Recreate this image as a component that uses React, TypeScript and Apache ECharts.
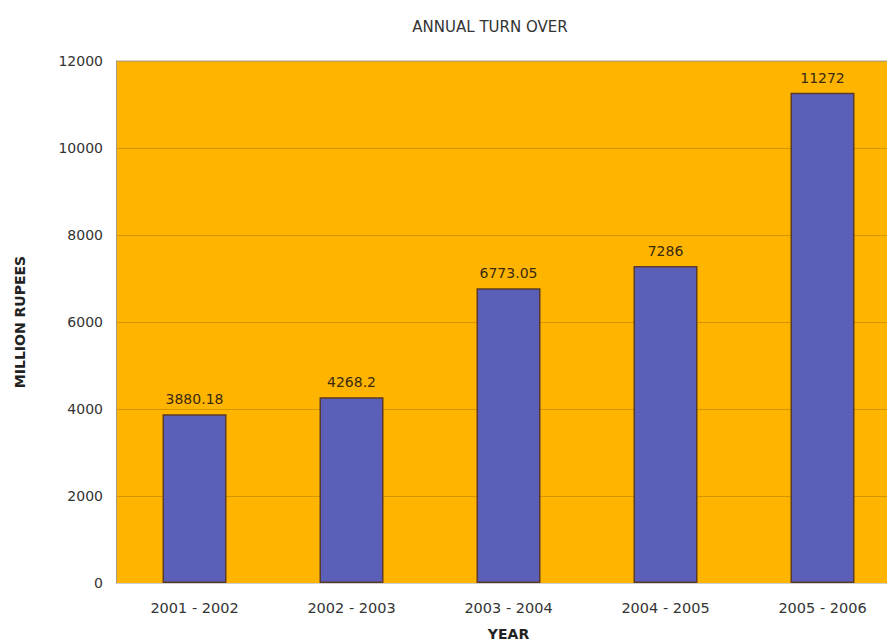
import React, { useEffect, useRef } from "react";
import * as echarts from "echarts";

const categories = ["2001 - 2002", "2002 - 2003", "2003 - 2004", "2004 - 2005", "2005 - 2006"];
const turnover = [3880.18, 4268.2, 6773.05, 7286, 11272];
const yTicks = { min: 0, max: 12000, interval: 2000 };

const FONT = "DejaVu Sans";

// Plot rectangle in page pixels; the last category runs past the right edge.
const PLOT = { left: 116, top: 61, width: 785, height: 522 };

export default function App() {
  const ref = useRef<HTMLDivElement>(null);

  useEffect(() => {
    if (!ref.current) return;
    const chart = echarts.init(ref.current, null, { renderer: "svg" });
    chart.setOption({
      animation: false,
      backgroundColor: "#ffffff",
      title: {
        text: "ANNUAL TURN OVER",
        left: 485,
        top: 14,
        textAlign: "center",
        textStyle: { fontFamily: FONT, fontSize: 15, fontWeight: "normal", color: "#333" },
      },
      grid: {
        left: PLOT.left,
        top: PLOT.top,
        width: PLOT.width,
        height: PLOT.height,
        outerBoundsMode: "none",
        containLabel: false,
        show: true,
        backgroundColor: "#FFB400",
        borderWidth: 0,
      },
      xAxis: {
        type: "category",
        data: categories,
        name: "YEAR",
        nameLocation: "middle",
        nameGap: 44,
        nameTextStyle: { fontFamily: FONT, fontSize: 14, fontWeight: "bold", color: "#222" },
        axisLine: { lineStyle: { color: "#cfcfcf", width: 1 } },
        axisTick: { show: false },
        axisLabel: { fontFamily: FONT, fontSize: 14.5, color: "#333", margin: 17 },
      },
      yAxis: {
        type: "value",
        min: yTicks.min,
        max: yTicks.max,
        interval: yTicks.interval,
        name: "MILLION RUPEES",
        nameLocation: "middle",
        nameGap: 89,
        nameTextStyle: { fontFamily: FONT, fontSize: 14, fontWeight: "bold", color: "#222" },
        axisLine: { show: true, lineStyle: { color: "#a89a80", width: 1 } },
        axisTick: { show: false },
        axisLabel: {
          fontFamily: FONT,
          fontSize: 14,
          color: "#333",
          margin: 13,
          formatter: (v: number) => String(v),
        },
        splitLine: { show: true, lineStyle: { color: "#D39500", width: 1 } },
      },
      series: [
        {
          type: "bar",
          data: turnover,
          barWidth: 64,
          itemStyle: { color: "#5B5FB8", borderColor: "#5a3a28", borderWidth: 1.5 },
          label: {
            show: true,
            position: "top",
            distance: 8,
            fontFamily: FONT,
            fontSize: 14,
            color: "#3a2a10",
          },
        },
      ],
      graphic: [
        {
          type: "line",
          shape: { x1: PLOT.left, y1: PLOT.top, x2: 887, y2: PLOT.top },
          style: { stroke: "#b0a890", lineWidth: 1 },
          z: 10,
        },
      ],
    });
    return () => chart.dispose();
  }, []);

  return (
    <div
      ref={ref}
      style={{ position: "fixed", left: 0, top: 0, width: 887, height: 642 }}
    />
  );
}
